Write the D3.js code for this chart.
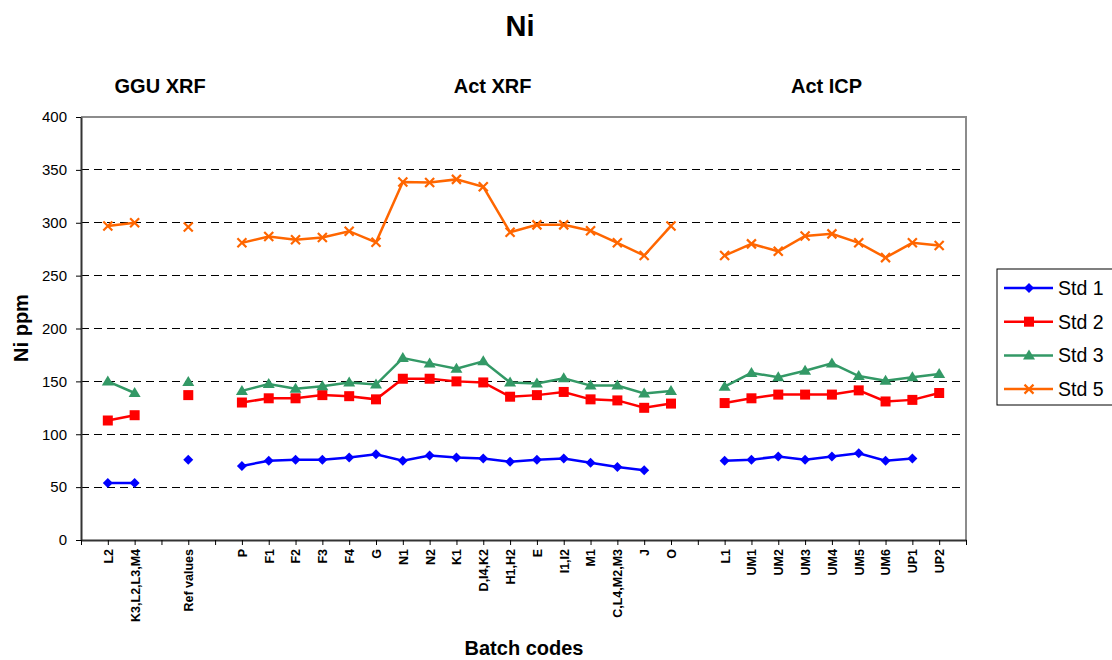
<!DOCTYPE html>
<html><head><meta charset="utf-8">
<script src="https://cdn.jsdelivr.net/npm/d3@7"></script>
<style>body{margin:0;background:#fff}svg{font-family:"Liberation Sans",Arial,sans-serif}</style>
</head><body><svg id="c" width="1112" height="660"></svg>
<script>
const categories = ["", "L2", "K3,L2,L3,M4", "", "Ref values", "", "P", "F1", "F2", "F3", "F4", "G", "N1", "N2", "K1", "D,I4,K2", "H1,H2", "E", "I1,I2", "M1", "C,L4,M2,M3", "J", "O", "", "L1", "UM1", "UM2", "UM3", "UM4", "UM5", "UM6", "UP1", "UP2", ""];
const std1 = [null, 54, 54, null, 76, null, 70, 75, 76, 76, 78, 81, 75, 80, 78, 77, 74, 76, 77, 73, 69, 66, null, null, 75, 76, 79, 76, 79, 82, 75, 77, null, null];
const std2 = [null, 113, 118, null, 137, null, 130, 134, 134, 137, 136, 133, 152.5, 152.5, 150, 149, 135.5, 137, 140, 133, 132, 125, 129, null, 129.5, 134, 137.5, 137.5, 137.5, 141.5, 131, 132.5, 139, null];
const std3 = [null, 150, 139, null, 149.5, null, 141, 147.5, 143, 145.5, 149, 147, 172, 167, 162, 169, 149, 148, 153, 146, 146, 138.5, 141, null, 145, 158, 154, 160, 167, 155, 150.5, 154, 157, null];
const std5 = [null, 297, 300, null, 296, null, 281, 287, 284, 286, 292, 281.5, 338.5, 338, 341, 334, 291, 298, 298, 292.5, 281, 269, 297, null, 269, 280, 273, 287.5, 289.5, 281, 267, 281, 278.5, null];
const seriesNames = ["Std 1", "Std 2", "Std 3", "Std 5"];
const yTicks = [0, 50, 100, 150, 200, 250, 300, 350, 400];
const groups = [{label: "GGU XRF", at: 2.95}, {label: "Act XRF", at: 15.35}, {label: "Act ICP", at: 27.8}];

const series = [
  {name: seriesNames[0], values: std1, color: "#0000FF", sym: "diamond"},
  {name: seriesNames[1], values: std2, color: "#FF0000", sym: "square"},
  {name: seriesNames[2], values: std3, color: "#339966", sym: "triangle"},
  {name: seriesNames[3], values: std5, color: "#FF6600", sym: "x"}
];

const svg = d3.select("#c");
const L = 81, R = 966, T = 117, B = 540;
const x = d3.scalePoint().domain(categories.map((d, i) => i)).range([L, R]);
const y = d3.scaleLinear().domain([0, 400]).range([B, T]);

// gridlines
svg.append("g").selectAll("line").data(yTicks.filter(t => t > 0 && t < 400)).join("line")
  .attr("x1", L).attr("x2", R).attr("y1", d => y(d)).attr("y2", d => y(d))
  .attr("stroke", "#000").attr("stroke-width", 1).attr("stroke-dasharray", "8,5").attr("shape-rendering", "crispEdges");

// frame (top/right gray)
svg.append("path").attr("d", `M${L},${T}H${R}V${B}`).attr("fill", "none").attr("stroke", "#8c8c8c").attr("stroke-width", 2);

// y axis
const ya = svg.append("g").attr("transform", `translate(${L},0)`)
  .call(d3.axisLeft(y).tickValues(yTicks).tickSize(5).tickSizeOuter(0));
ya.select(".domain").attr("stroke", "#333").attr("stroke-width", 2);
ya.selectAll(".tick line").attr("stroke", "#000");
ya.selectAll("text").attr("font-size", 15).attr("fill", "#000").attr("font-family", "Liberation Sans, Arial").attr("x", -14);

// x axis
const xa = svg.append("g").attr("transform", `translate(0,${B})`)
  .call(d3.axisBottom(x).tickSize(5).tickSizeOuter(0).tickFormat(i => categories[i]));
xa.select(".domain").attr("stroke", "#333").attr("stroke-width", 2);
xa.selectAll(".tick line").attr("stroke", "#000");
xa.selectAll("text").attr("font-size", 12.5).attr("font-weight", "bold").attr("fill", "#000")
  .attr("font-family", "Liberation Sans, Arial")
  .attr("transform", "rotate(-90)").attr("text-anchor", "end").attr("x", -9).attr("y", 0).attr("dy", "0.35em");

// symbols
function drawSym(g, sym, color, cx, cy) {
  if (sym === "diamond") g.append("path").attr("d", `M${cx},${cy-5}L${cx+5},${cy}L${cx},${cy+5}L${cx-5},${cy}Z`).attr("fill", color);
  else if (sym === "square") g.append("rect").attr("x", cx-5).attr("y", cy-5).attr("width", 10).attr("height", 10).attr("fill", color);
  else if (sym === "triangle") g.append("path").attr("d", `M${cx},${cy-6}L${cx+6},${cy+4}L${cx-6},${cy+4}Z`).attr("fill", color);
  else g.append("path").attr("d", `M${cx-4.5},${cy-4.5}L${cx+4.5},${cy+4.5}M${cx+4.5},${cy-4.5}L${cx-4.5},${cy+4.5}`).attr("stroke", color).attr("stroke-width", 2.2).attr("fill", "none");
}

const line = d3.line().defined(d => d.v != null).x(d => x(d.i)).y(d => y(d.v));
series.forEach(s => {
  const pts = s.values.map((v, i) => ({i, v}));
  const g = svg.append("g");
  g.append("path").datum(pts).attr("d", line).attr("fill", "none").attr("stroke", s.color).attr("stroke-width", 2.5);
  pts.filter(d => d.v != null).forEach(d => drawSym(g, s.sym, s.color, x(d.i), y(d.v)));
});

// titles
svg.append("text").attr("x", 520).attr("y", 36).attr("text-anchor", "middle").attr("font-size", 29).attr("font-weight", "bold").text("Ni");
groups.forEach(gr => svg.append("text").attr("x", x(0) + gr.at * x.step()).attr("y", 93).attr("text-anchor", "middle")
  .attr("font-size", 20).attr("font-weight", "bold").text(gr.label));
svg.append("text").attr("transform", "translate(28,328) rotate(-90)").attr("text-anchor", "middle").attr("font-size", 20).attr("font-weight", "bold").text("Ni ppm");
svg.append("text").attr("x", 524).attr("y", 655).attr("text-anchor", "middle").attr("font-size", 20).attr("font-weight", "bold").text("Batch codes");

// legend
const lg = svg.append("g");
lg.append("rect").attr("x", 997).attr("y", 269).attr("width", 130).attr("height", 136).attr("fill", "#fff").attr("stroke", "#000").attr("stroke-width", 1);
series.forEach((s, k) => {
  const ly = 288 + k * 33.7;
  lg.append("line").attr("x1", 1004).attr("x2", 1053).attr("y1", ly).attr("y2", ly).attr("stroke", s.color).attr("stroke-width", 2.5);
  drawSym(lg, s.sym, s.color, 1029, ly);
  lg.append("text").attr("x", 1058).attr("y", ly).attr("dy", "0.36em").attr("font-size", 19.5).text(s.name);
});
</script></body></html>
